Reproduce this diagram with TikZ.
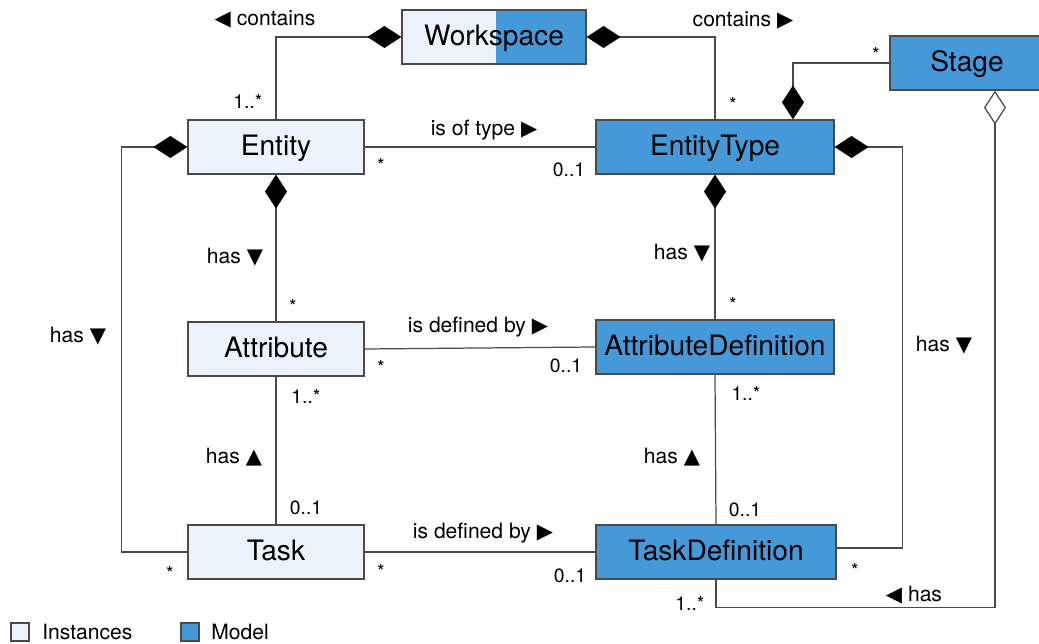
\documentclass[tikz,border=0pt]{standalone}
\usepackage{fontspec}
\setmainfont{TeX Gyre Heros}
\newfontfamily\symf{DejaVu Sans}
\usetikzlibrary{arrows.meta}
\definecolor{instc}{HTML}{EAF2FB}
\definecolor{modelc}{HTML}{4599D8}
\definecolor{linec}{HTML}{4A4A4A}
\newcommand{\trir}{{\symf ▶}}
\newcommand{\tril}{{\symf ◀}}
\newcommand{\trid}{{\symf ▼}}
\newcommand{\triu}{{\symf ▲}}
\begin{document}
\begin{tikzpicture}[x=0.02cm, y=-0.02cm]
\tikzset{ cls/.style={draw=linec, line width=0.7pt, minimum height=1.08cm, inner sep=0pt, text depth=0.08cm, font=\fontsize{16}{18}\selectfont},
  inst/.style={cls, fill=instc}, model/.style={cls, fill=modelc},
  lbl/.style={font=\fontsize{12}{14}\selectfont, inner sep=0pt},
  mult/.style={font=\fontsize{11}{13}\selectfont, inner sep=0pt},
  link/.style={draw=linec, line width=0.7pt},
  comp/.style={link, {Diamond[length=0.68cm, width=0.44cm, color=black, fill=black]}-},
  aggr/.style={link, {Diamond[open, length=0.68cm, width=0.44cm, color=linec, fill=white]}-},
}
\useasboundingbox (0,0) rectangle (1039,644);

%\draw [lightgray, dashed](0,0) grid[step=50] (1039,644);

% classes
\node [inst, minimum width=3.68cm, path picture={\fill[modelc] ([xshift=0.04cm]path picture bounding box.south) rectangle (path picture bounding box.north east);}] (ws) at (494,37) {Workspace};
\node [model, minimum width=3.08cm] (stage) at (967,63) {Stage};
\node [inst,  minimum width=3.52cm] (ent)  at (276,147) {Entity};
\node [model, minimum width=4.76cm] (et)   at (715,147) {EntityType};
\node [inst,  minimum width=3.52cm] (attr) at (276,349) {Attribute};
\node [model, minimum width=4.76cm] (ad)   at (715,347) {AttributeDefinition};
\node [inst,  minimum width=3.52cm] (task) at (276,552) {Task};
\node [model, minimum width=4.80cm] (td)   at (716,552) {TaskDefinition};

% associations
\draw [comp] (ws.west) -| (ent.north);
\draw [comp] (ws.east) -| (et.north);
\draw [comp] ([xshift=1.56cm]et.north) |- (stage.west);
\draw [aggr] ([xshift=0.56cm]stage.south) |- ([yshift=-0.56cm]td.south) -- (td.south);
\draw [link] (ent.east) -- (et.west);
\draw [comp] (ent.south) -- (attr.north);
\draw [comp] (ent.west) -- ++(-66,0) |- (task.west);
\draw [comp] (et.south) -- (ad.north);
\draw [comp] (et.east) -- ++(68,0) |- ([yshift=0.08cm]td.east);
\draw [link] (attr.east) -- (ad.west);
\draw [link] (attr.south) -- (task.north);
\draw [link] (ad.south) -- (td.north);
\draw [link] (task.east) -- (td.west);

% role labels
\node [lbl] (l1)  at (265,19)  {\tril{} contains};
\node [lbl] (l2)  at (743,20)  {contains \trir};
\node [lbl] (l3)  at (484,130) {is of type \trir};
\node [lbl] (l4)  at (235,257) {has \trid};
\node [lbl] (l5)  at (78,336)  {has \trid};
\node [lbl] (l6)  at (682,253) {has \trid};
\node [lbl] (l7)  at (944,345) {has \trid};
\node [lbl] (l8)  at (478,327) {is defined by \trir};
\node [lbl] (l9)  at (234,457) {has \triu};
\node [lbl] (l10) at (672,457) {has \triu};
\node [lbl] (l11) at (483,533) {is defined by \trir};
\node [lbl] (l12) at (914,595) {\tril{} has};

% multiplicities
\node [mult] (m1)  at (248,101) {1..*};
\node [mult] (m2)  at (733,104) {*};
\node [mult] (m3)  at (876,54)  {*};
\node [mult] (m4)  at (381,165) {*};
\node [mult] (m5)  at (569,170) {0..1};
\node [mult] (m6)  at (293,306) {*};
\node [mult] (m7)  at (170,573) {*};
\node [mult] (m8)  at (733,304) {*};
\node [mult] (m9)  at (855,570) {*};
\node [mult] (m10) at (381,367) {*};
\node [mult] (m11) at (566,366) {0..1};
\node [mult] (m12) at (306,396) {1..*};
\node [mult] (m13) at (306,508) {0..1};
\node [mult] (m14) at (746,393) {1..*};
\node [mult] (m15) at (745,510) {0..1};
\node [mult] (m16) at (381,571) {*};
\node [mult] (m17) at (570,576) {0..1};
\node [mult] (m18) at (690,603) {1..*};

% legend
\node [draw=linec, line width=0.7pt, fill=instc,  minimum size=0.36cm, inner sep=0pt] (kI) at (20,632) {};
\node [lbl, anchor=west] (kIt) at (42,632) {Instances};
\node [draw=linec, line width=0.7pt, fill=modelc, minimum size=0.36cm, inner sep=0pt] (kM) at (190,632) {};
\node [lbl, anchor=west] (kMt) at (211,632) {Model};

\end{tikzpicture}
\end{document}
